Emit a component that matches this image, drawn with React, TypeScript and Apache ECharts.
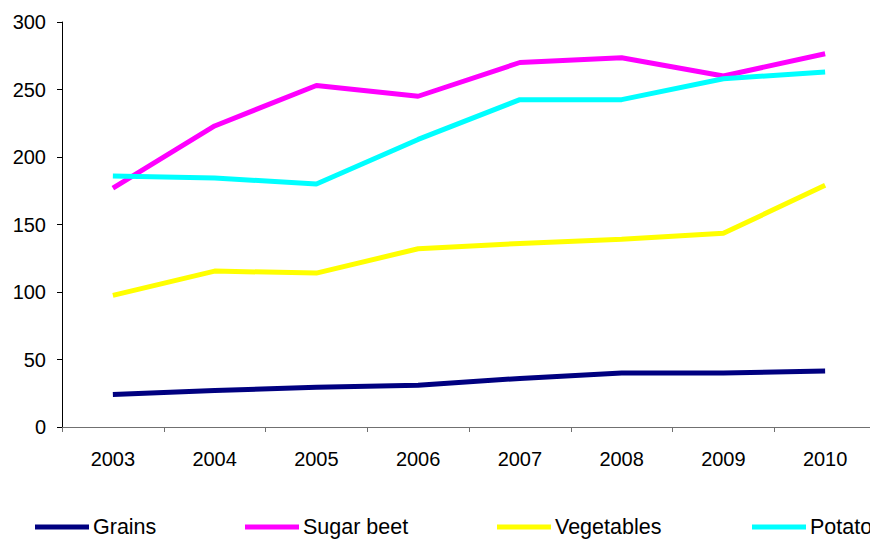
import React, { useEffect, useRef } from "react";
import * as echarts from "echarts";

const years = ["2003", "2004", "2005", "2006", "2007", "2008", "2009", "2010"];
const grains = [24, 27, 29.5, 31, 36, 40, 40, 41.5];
const sugarBeet = [177, 223, 253, 245, 270, 273.5, 260, 276.5];
const vegetables = [97.5, 115.5, 114, 132, 136, 139, 143.5, 179];
const potato = [186, 184.5, 180, 213, 242.5, 242.5, 258, 263];

const seriesNames = ["Grains", "Sugar beet", "Vegetables", "Potato"];
const seriesColors = ["#000080", "#FF00FF", "#FFFF00", "#00FFFF"];
const seriesData = [grains, sugarBeet, vegetables, potato];
const legendLefts = [35, 245, 497, 752];

const FONT = "Arial, 'Liberation Sans', sans-serif";

export default function App() {
  const ref = useRef<HTMLDivElement>(null);
  useEffect(() => {
    if (!ref.current) return;
    const chart = echarts.init(ref.current, null, { renderer: "svg" });
    chart.setOption({
      animation: false,
      backgroundColor: "#fff",
      grid: { left: 62, top: 22, right: 4, bottom: 112, containLabel: false },
      legend: seriesNames.map((n, i) => ({
        data: [n],
        left: legendLefts[i],
        top: 516,
        padding: 0,
        icon: "rect",
        itemWidth: 54,
        itemHeight: 5,
        selectedMode: false,
        textStyle: { fontSize: 21.5, fontFamily: FONT, color: "#000", padding: [0, 0, 0, -1] },
      })),
      xAxis: {
        type: "category",
        data: years,
        boundaryGap: true,
        axisLine: { lineStyle: { color: "#707070", width: 1 } },
        axisTick: { show: true, length: 5, lineStyle: { color: "#707070" } },
        axisLabel: { fontSize: 20, fontFamily: FONT, color: "#000", margin: 22 },
        splitLine: { show: false },
      },
      yAxis: {
        type: "value",
        min: 0,
        max: 300,
        interval: 50,
        axisLine: { show: true, lineStyle: { color: "#000", width: 1 } },
        axisTick: { show: true, length: 5, lineStyle: { color: "#000" } },
        axisLabel: { fontSize: 20, fontFamily: FONT, color: "#000", margin: 16 },
        splitLine: { show: false },
      },
      series: seriesNames.map((n, i) => ({
        name: n,
        type: "line",
        data: seriesData[i],
        showSymbol: false,
        symbol: "none",
        color: seriesColors[i],
        lineStyle: { width: 5, color: seriesColors[i] },
      })),
    });
    return () => chart.dispose();
  }, []);
  return (
    <div
      ref={ref}
      style={{ position: "fixed", left: 0, top: 0, width: 880, height: 539 }}
    />
  );
}
